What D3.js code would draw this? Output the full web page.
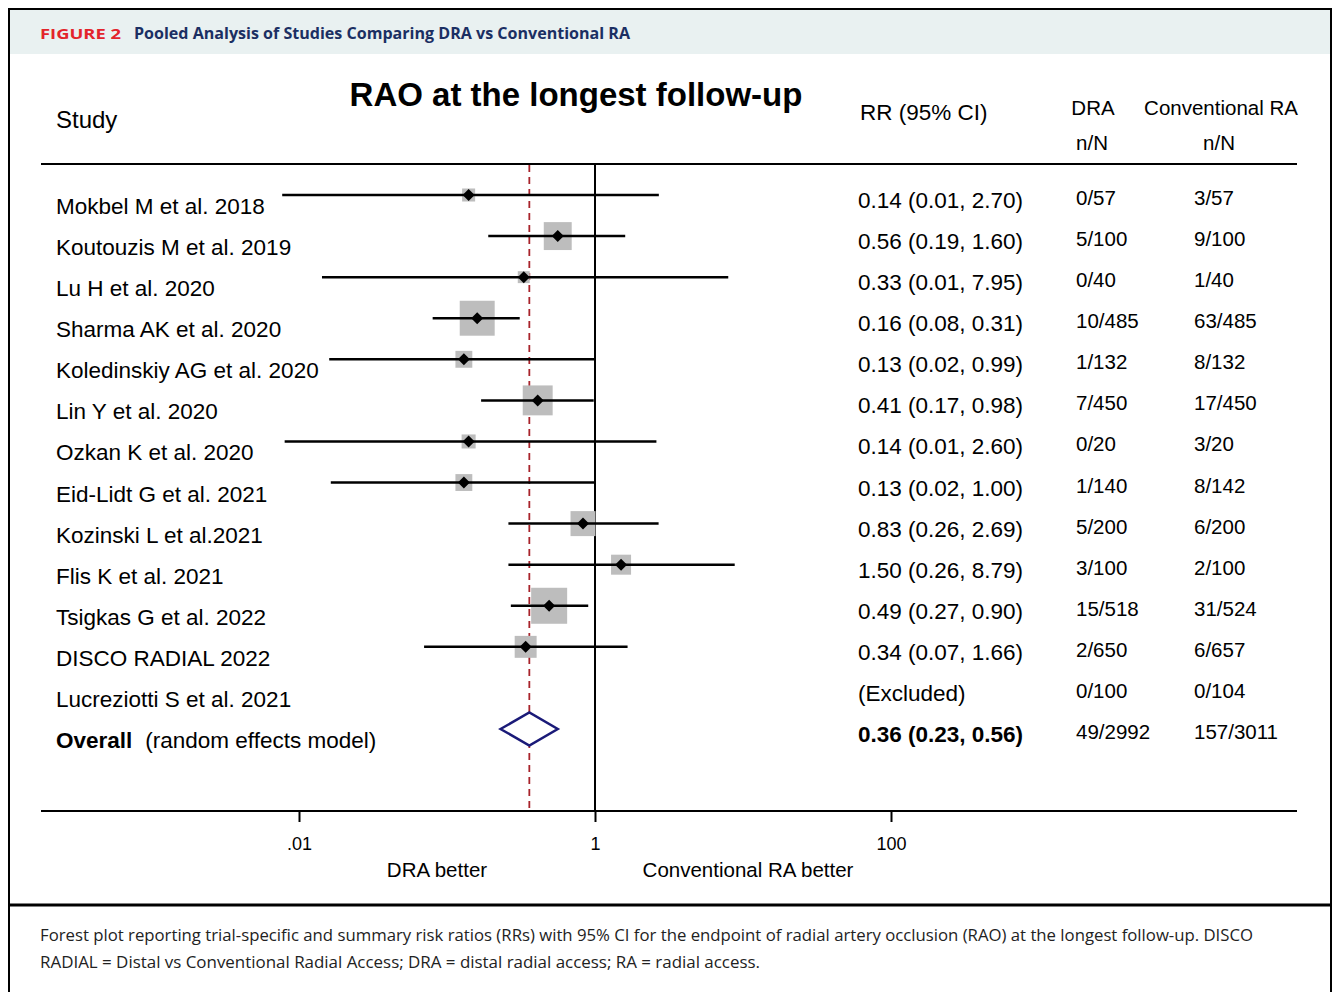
<!DOCTYPE html>
<html>
<head>
<meta charset="utf-8">
<script src="https://cdn.jsdelivr.net/npm/d3@7"></script>
<style>
  body { margin: 0; background: #fff; }
  text { font-family: "Liberation Sans", Arial, sans-serif; fill: #000; }
</style>
</head>
<body>
<div id="chart"></div>
<script>
// rows of the forest plot, top to bottom
var studies = ["Mokbel M et al. 2018", "Koutouzis M et al. 2019", "Lu H et al. 2020",
  "Sharma AK et al. 2020", "Koledinskiy AG et al. 2020", "Lin Y et al. 2020",
  "Ozkan K et al. 2020", "Eid-Lidt G et al. 2021", "Kozinski L et al.2021",
  "Flis K et al. 2021", "Tsigkas G et al. 2022", "DISCO RADIAL 2022", "Lucreziotti S et al. 2021"];
var rr   = [0.14, 0.56, 0.33, 0.16, 0.13, 0.41, 0.14, 0.13, 0.83, 1.50, 0.49, 0.34, null];
var lo   = [0.0077, 0.19, 0.0143, 0.08, 0.016, 0.17, 0.008, 0.0164, 0.26, 0.26, 0.27, 0.07, null];
var hi   = [2.70, 1.60, 7.95, 0.31, 0.99, 0.98, 2.60, 1.00, 2.69, 8.79, 0.90, 1.66, null];
var weight = [2.5, 11.5, 2.1, 18.0, 4.2, 13.2, 2.9, 4.2, 9.2, 5.9, 19.1, 7.1, 0];
var rrText = ["0.14 (0.01, 2.70)", "0.56 (0.19, 1.60)", "0.33 (0.01, 7.95)", "0.16 (0.08, 0.31)",
  "0.13 (0.02, 0.99)", "0.41 (0.17, 0.98)", "0.14 (0.01, 2.60)", "0.13 (0.02, 1.00)",
  "0.83 (0.26, 2.69)", "1.50 (0.26, 8.79)", "0.49 (0.27, 0.90)", "0.34 (0.07, 1.66)", "(Excluded)"];
var draN  = ["0/57", "5/100", "0/40", "10/485", "1/132", "7/450", "0/20", "1/140", "5/200", "3/100", "15/518", "2/650", "0/100"];
var convN = ["3/57", "9/100", "1/40", "63/485", "8/132", "17/450", "3/20", "8/142", "6/200", "2/100", "31/524", "6/657", "0/104"];

// pooled estimate
var overall = {rr: 0.36, lo: 0.23, hi: 0.56, text: "0.36 (0.23, 0.56)", dra: "49/2992", conv: "157/3011"};

var tickVals = [0.01, 1, 100];
var tickLabels = [".01", "1", "100"];

var W = 1333, H = 992;
var svg = d3.select("#chart").append("svg").attr("width", W).attr("height", H);

// frame + header band
svg.append("rect").attr("x", 10).attr("y", 10).attr("width", 1320).attr("height", 44).attr("fill", "#e9f1f1");
svg.append("path").attr("d", "M9,1000 V9 H1331 V1000").attr("fill", "none").attr("stroke", "#000").attr("stroke-width", 2);
svg.append("line").attr("x1", 9).attr("x2", 1331).attr("y1", 905).attr("y2", 905).attr("stroke", "#000").attr("stroke-width", 3);

svg.append("text").attr("x", 40).attr("y", 39)
  .attr("textLength", 81).attr("lengthAdjust", "spacingAndGlyphs")
  .style("font-family", "'Open Sans', sans-serif").style("font-weight", "bold").style("font-size", "14px")
  .style("fill", "#e3242b").text("FIGURE 2");
svg.append("text").attr("x", 134).attr("y", 39)
  .attr("textLength", 496).attr("lengthAdjust", "spacingAndGlyphs")
  .style("font-family", "'Open Sans', sans-serif").style("font-weight", "bold").style("font-size", "16px")
  .style("fill", "#1b2f63").text("Pooled Analysis of Studies Comparing DRA vs Conventional RA");

// caption
svg.append("text").attr("x", 40).attr("y", 941)
  .attr("textLength", 1213).attr("lengthAdjust", "spacingAndGlyphs")
  .style("font-family", "'Open Sans', sans-serif").style("font-size", "16px").style("fill", "#222")
  .text("Forest plot reporting trial-specific and summary risk ratios (RRs) with 95% CI for the endpoint of radial artery occlusion (RAO) at the longest follow-up. DISCO");
svg.append("text").attr("x", 40).attr("y", 968)
  .attr("textLength", 720).attr("lengthAdjust", "spacingAndGlyphs")
  .style("font-family", "'Open Sans', sans-serif").style("font-size", "16px").style("fill", "#222")
  .text("RADIAL = Distal vs Conventional Radial Access; DRA = distal radial access; RA = radial access.");

// scales
var x = d3.scaleLog().domain([0.01, 100]).range([299, 891]);
var y = d3.scaleLinear().domain([0, 13]).range([195, 729]);
var size = d3.scaleSqrt().domain([0, 19.1]).range([0, 36]);

// column headers
svg.append("text").attr("x", 576).attr("y", 106).attr("text-anchor", "middle")
  .style("font-size", "33px").style("font-weight", "bold").text("RAO at the longest follow-up");
svg.append("text").attr("x", 56).attr("y", 128).style("font-size", "24px").text("Study");
svg.append("text").attr("x", 860).attr("y", 120).style("font-size", "22.5px").text("RR (95% CI)");
svg.append("text").attr("x", 1093).attr("y", 115).attr("text-anchor", "middle").style("font-size", "20.5px").text("DRA");
svg.append("text").attr("x", 1221).attr("y", 115).attr("text-anchor", "middle").style("font-size", "20.5px").text("Conventional RA");
svg.append("text").attr("x", 1092).attr("y", 150).attr("text-anchor", "middle").style("font-size", "20.5px").text("n/N");
svg.append("text").attr("x", 1219).attr("y", 150).attr("text-anchor", "middle").style("font-size", "20.5px").text("n/N");

// rules
svg.append("line").attr("x1", 41).attr("x2", 1297).attr("y1", 164).attr("y2", 164).attr("stroke", "#000").attr("stroke-width", 2);
svg.append("line").attr("x1", 41).attr("x2", 1297).attr("y1", 811).attr("y2", 811).attr("stroke", "#000").attr("stroke-width", 2);
svg.append("line").attr("x1", x(1)).attr("x2", x(1)).attr("y1", 165).attr("y2", 811).attr("stroke", "#000").attr("stroke-width", 2);
svg.append("line").attr("x1", x(overall.rr)).attr("x2", x(overall.rr)).attr("y1", 165).attr("y2", 811)
  .attr("stroke", "#a8232b").attr("stroke-width", 1.8).attr("stroke-dasharray", "7,5");

// axis
var axis = d3.axisBottom(x).tickValues(tickVals).tickSize(11).tickPadding(15)
  .tickFormat(function(d, i) { return tickLabels[i]; });
var gAx = svg.append("g").attr("transform", "translate(0,811)").call(axis);
gAx.select(".domain").remove();
gAx.selectAll(".tick line").attr("stroke", "#000").attr("stroke-width", 2);
gAx.selectAll(".tick text").style("font-family", "'Liberation Sans', Arial, sans-serif").style("font-size", "18px").attr("fill", "#000");
svg.append("text").attr("x", 437).attr("y", 877).attr("text-anchor", "middle").style("font-size", "20.5px").text("DRA better");
svg.append("text").attr("x", 748).attr("y", 877).attr("text-anchor", "middle").style("font-size", "20.5px").text("Conventional RA better");

// study rows
var rows = studies.map(function(s, i) {
  return {name: s, rr: rr[i], lo: lo[i], hi: hi[i], w: weight[i], text: rrText[i], dra: draN[i], conv: convN[i], i: i};
});
var plotted = rows.filter(function(d) { return d.rr !== null; });

svg.append("g").selectAll("rect").data(plotted).enter().append("rect")
  .attr("x", function(d) { return x(d.rr) - size(d.w) / 2; })
  .attr("y", function(d) { return y(d.i) - size(d.w) / 2; })
  .attr("width", function(d) { return size(d.w); })
  .attr("height", function(d) { return size(d.w); })
  .attr("fill", "#bdbdbd");

svg.append("g").selectAll("line").data(plotted).enter().append("line")
  .attr("x1", function(d) { return x(d.lo); })
  .attr("x2", function(d) { return x(d.hi); })
  .attr("y1", function(d) { return y(d.i); })
  .attr("y2", function(d) { return y(d.i); })
  .attr("stroke", "#000").attr("stroke-width", 2.5);

svg.append("g").selectAll("path").data(plotted).enter().append("path")
  .attr("d", function(d) {
    var cx = x(d.rr), cy = y(d.i), r = 6;
    return "M" + (cx - r) + "," + cy + "L" + cx + "," + (cy - r) + "L" + (cx + r) + "," + cy + "L" + cx + "," + (cy + r) + "Z";
  })
  .attr("fill", "#000");

var gTxt = svg.append("g");
gTxt.selectAll(".study").data(rows).enter().append("text").attr("class", "study")
  .attr("x", 56).attr("y", function(d) { return y(d.i) + 19; })
  .style("font-size", "22.5px").text(function(d) { return d.name; });
gTxt.selectAll(".rr").data(rows).enter().append("text").attr("class", "rr")
  .attr("x", 858).attr("y", function(d) { return y(d.i) + 13; })
  .style("font-size", "22.5px").text(function(d) { return d.text; });
gTxt.selectAll(".dra").data(rows).enter().append("text").attr("class", "dra")
  .attr("x", 1076).attr("y", function(d) { return y(d.i) + 10; })
  .style("font-size", "20.5px").text(function(d) { return d.dra; });
gTxt.selectAll(".conv").data(rows).enter().append("text").attr("class", "conv")
  .attr("x", 1194).attr("y", function(d) { return y(d.i) + 10; })
  .style("font-size", "20.5px").text(function(d) { return d.conv; });

// overall row
var yo = y(13);
var ov = svg.append("text").attr("x", 56).attr("y", yo + 19).style("font-size", "22.5px");
ov.append("tspan").style("font-weight", "bold").text("Overall");
ov.append("tspan").attr("dx", 13).text("(random effects model)");
svg.append("text").attr("x", 858).attr("y", yo + 13).style("font-size", "22.5px").style("font-weight", "bold").text(overall.text);
svg.append("text").attr("x", 1076).attr("y", yo + 10).style("font-size", "20.5px").text(overall.dra);
svg.append("text").attr("x", 1194).attr("y", yo + 10).style("font-size", "20.5px").text(overall.conv);
svg.append("path")
  .attr("d", "M" + x(overall.lo) + "," + yo + "L" + x(overall.rr) + "," + (yo - 16.5) + "L" + x(overall.hi) + "," + yo + "L" + x(overall.rr) + "," + (yo + 16.5) + "Z")
  .attr("fill", "#fff").attr("stroke", "#1a1a78").attr("stroke-width", 2.5);
</script>
</body>
</html>
